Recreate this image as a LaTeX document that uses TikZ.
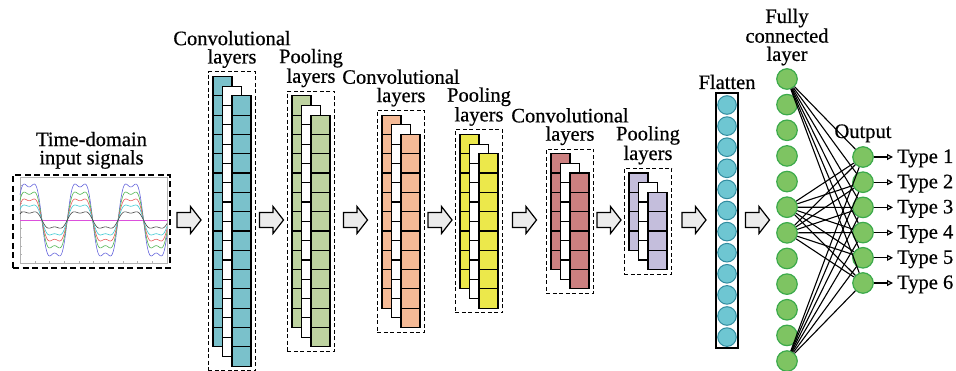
\documentclass[tikz,border=0pt]{standalone}
\usepackage{fontspec}
\setmainfont{Liberation Serif}[Ligatures=TeX]
\newfontfamily\lblfont{Liberation Serif}[FakeBold=0.6]
\usetikzlibrary{fit,arrows.meta,calc}

\definecolor{cA}{RGB}{122,193,203}
\definecolor{cB}{RGB}{190,211,160}
\definecolor{cC}{RGB}{245,186,150}
\definecolor{cD}{RGB}{236,232,75}
\definecolor{cE}{RGB}{204,128,128}
\definecolor{cF}{RGB}{196,190,220}
\definecolor{arrowgray}{RGB}{236,236,236}
\definecolor{flatfill}{RGB}{110,198,210}
\definecolor{flatedge}{RGB}{50,140,160}
\definecolor{fcfill}{RGB}{126,196,98}
\definecolor{fcedge}{RGB}{60,170,75}
\definecolor{wblue}{RGB}{100,100,220}
\definecolor{wgreen}{RGB}{80,180,80}
\definecolor{wred}{RGB}{230,90,90}
\definecolor{wcyan}{RGB}{60,200,210}
\definecolor{wblack}{RGB}{70,70,70}
\definecolor{wmag}{RGB}{220,80,220}

\tikzset{
  sheet/.style={line width=1.2pt, draw=black},
  layerbox/.style={draw, dash pattern=on 4pt off 2.5pt, line width=1pt, inner sep=4.7pt},
  sigbox/.style={draw, dash pattern=on 6pt off 3.5pt, line width=2pt, minimum width=157pt, minimum height=93pt, inner sep=0pt},
  lbl/.style={font=\lblfont\fontsize{20.5}{18.3}\selectfont, align=center, inner sep=0pt},
  barrowstyle/.style={draw=black, line width=1.2pt, fill=arrowgray, line join=miter},
  barrow/.pic={\draw[barrowstyle] (-12,-7.5) -- (1.5,-7.5) -- (1.5,-13.5) -- (12,0) -- (1.5,13.5) -- (1.5,7.5) -- (-12,7.5) -- cycle;},
  flatcirc/.style={circle, draw=flatedge, fill=flatfill, line width=1pt, minimum size=18.6pt, inner sep=0pt},
  fccirc/.style={circle, draw=fcedge, fill=fcfill, line width=1.2pt, minimum size=20.5pt, inner sep=0pt},
  conn/.style={line width=1.1pt, draw=black},
  typelbl/.style={font=\lblfont\fontsize{20.5}{18}\selectfont, inner sep=0pt, anchor=base west},
  outarrow/.style={line width=1.2pt, -{Triangle[open, length=6pt, width=6pt]}, shorten >=4pt},
  wave/.style={line width=0.6pt},
}

\newcommand{\cnnlayer}[5]{%
  \pgfmathsetmacro\Ltop{211.7-#3*9.65}%
  \pgfmathtruncatemacro\Nm{#3-1}%
  \foreach \k/\c in {0/#4,1/white,2/#4}{%
    \pgfmathsetmacro\sx{#2+\k*9.5}%
    \pgfmathsetmacro\sy{\Ltop+\k*9.65}%
    \draw[sheet, fill=\c] (\sx,\sy) rectangle ++(19,{#3*19.3});
    \foreach \j in {1,...,\Nm}{%
      \draw[sheet] (\sx,{\sy+\j*19.3}) -- ++(19,0);
    }%
  }%
  \node[layerbox, fit={(#2,\Ltop) ({#2+38},{\Ltop+19.3+#3*19.3})}] (#1) {};
  \node[lbl, anchor=south, yshift=3.3pt] (#1lab) at (#1.north) {#5};
}

\newcommand{\wavey}[3]{220-#1*(sin((#3-16.5)*7.0866)+#2*sin(3*(#3-16.5)*7.0866))}

\begin{document}
\begin{tikzpicture}[x=1pt,y=-1pt]
\useasboundingbox (0,0) rectangle (956,371);

% input signal plot
\draw[gray!60, line width=0.5pt] (20,177) rectangle (167,263);
\foreach \t in {0,...,10}{
  \draw[gray!60, line width=0.4pt] (20,{177+\t*8.6}) -- ++(2,0);
  \draw[gray!60, line width=0.4pt] ({20+\t*14.7},263) -- ++(0,-2);
}
\draw[wmag, wave] (20,220) -- (167,220);
\draw[wblue, wave] plot[domain=20:167, samples=300, smooth] (\x,{\wavey{41.3}{0.2}{\x}});
\draw[wgreen, wave] plot[domain=20:167, samples=300, smooth] (\x,{\wavey{32.1}{0.2}{\x}});
\draw[wred, wave] plot[domain=20:167, samples=300, smooth] (\x,{\wavey{24.1}{0.2}{\x}});
\draw[wcyan, wave] plot[domain=20:167, samples=300, smooth] (\x,{\wavey{17.2}{0.2}{\x}});
\draw[wblack, wave] plot[domain=20:167, samples=300, smooth] (\x,{\wavey{9.2}{0.25}{\x}});
\node[sigbox] (sig) at (91.5,221.5) {};
\node[lbl, anchor=south, yshift=5pt] (siglab) at (sig.north) {Time-domain\\input signals};

% layers
\cnnlayer{L1}{213}{14}{cA}{Convolutional\\layers}
\cnnlayer{L2}{292}{12}{cB}{Pooling\\layers}
\cnnlayer{L3}{382}{10}{cC}{Convolutional\\layers}
\cnnlayer{L4}{460}{8}{cD}{Pooling\\layers}
\cnnlayer{L5}{551}{6}{cE}{Convolutional\\layers}
\cnnlayer{L6}{629}{4}{cF}{Pooling\\layers}

% flatten
\node[draw, line width=1.2pt, minimum width=22pt, minimum height=255pt, inner sep=0pt] (flat) at (727,220.5) {};
\foreach \i in {1,...,12}{
  \node[flatcirc] (f\i) at (727,{105+(\i-1)*21.1}) {};
}
\node[lbl, anchor=south, yshift=3pt] (flatlab) at (flat.north) {Flatten};

% block arrows
\foreach \ax in {189,271.5,355.5,440,524.5,609,694,757.5}{
  \pic at (\ax,220) {barrow};
}

% fully connected
\foreach \i in {1,...,12}{
  \node[fccirc] (fc\i) at (787,{79+(\i-1)*25.64}) {};
}
\node[lbl, anchor=south, yshift=2.6pt] (fclab) at (fc1.north) {Fully\\connected\\layer};

% output
\foreach \i in {1,...,6}{
  \node[fccirc] (o\i) at (863,{157+(\i-1)*25.2}) {};
  \node[typelbl] (t\i) at (897,{163+(\i-1)*25.2}) {Type \i};
  \draw[outarrow] (o\i) -- (o\i -| t\i.west);
}
\node[lbl, anchor=south, yshift=3.6pt] (outlab) at (o1.north) {Output};

\foreach \a in {1,6,7,12}{
  \foreach \b in {1,...,6}{
    \draw[conn] (fc\a) -- (o\b);
  }
}
\end{tikzpicture}
\end{document}
